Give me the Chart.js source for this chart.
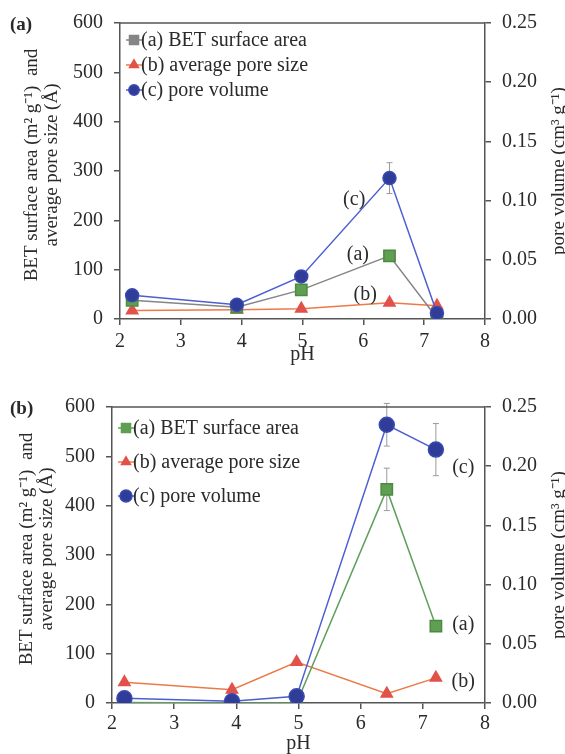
<!DOCTYPE html>
<html>
<head>
<meta charset="utf-8">
<script src="https://cdn.jsdelivr.net/npm/chart.js@4/dist/chart.umd.min.js"></script>
<style>
  body { margin: 0; background: #fff; }
  .panel { width: 565px; height: 377px; position: relative; }
</style>
</head>
<body>
<div class="panel"><canvas id="chartA" width="565" height="377"></canvas></div>
<div class="panel"><canvas id="chartB" width="565" height="377"></canvas></div>
<script>
// panel (a)
const phA = [2.2, 3.92, 4.98, 6.43, 7.21];
const betA = [38, 24, 59, 128, 2];
const betErrA = [0, 0, 0, 0, 0];
const poreSizeA = [17, 19, 21, 33, 27];
const poreVolA = [0.020, 0.012, 0.036, 0.119, 0.005];
const poreVolErrA = [0.001, 0.001, 0.001, 0.013, 0.001];

// panel (b)
const phB = [2.2, 3.93, 4.97, 6.42, 7.21];
const betB = [1, 0, 0, 433, 156];
const betErrB = [0, 0, 0, 43, 6];
const poreSizeB = [42, 27, 83, 19, 51];
const poreVolB = [0.004, 0.0014, 0.0056, 0.235, 0.214];
const poreVolErrB = [0, 0, 0, 0.018, 0.022];

const seriesLabels = ['(a) BET surface area', '(b) average pore size', '(c) pore volume'];
const xTicks = [2, 3, 4, 5, 6, 7, 8];
const leftTitle = ['BET surface area (m\u00B2 g\u207B\u00B9)  and', 'average pore size (\u00C5)'];
const rightTitle = 'pore volume (cm\u00B3 g\u207B\u00B9)';

const FONT = '"Liberation Serif", "Times New Roman", serif';
const INK = '#2a2a2a';

const decor = {
  id: 'decor',
  beforeDatasetsDraw(chart, args, o) {
    const ctx = chart.ctx;
    ctx.save();
    ctx.strokeStyle = '#9a9a9a';
    ctx.lineWidth = 1;
    chart.data.datasets.forEach((ds, i) => {
      if (!ds.errors) return;
      const meta = chart.getDatasetMeta(i);
      const sc = chart.scales[ds.yAxisID];
      meta.data.forEach((pt, j) => {
        const e = ds.errors[j];
        if (!e) return;
        const v = ds.data[j].y;
        const y1 = sc.getPixelForValue(v + e), y2 = sc.getPixelForValue(v - e);
        ctx.beginPath();
        ctx.moveTo(pt.x, y1); ctx.lineTo(pt.x, y2);
        ctx.moveTo(pt.x - 3, y1); ctx.lineTo(pt.x + 3, y1);
        ctx.moveTo(pt.x - 3, y2); ctx.lineTo(pt.x + 3, y2);
        ctx.stroke();
      });
    });
    ctx.restore();
  },
  afterDraw(chart, args, o) {
    const ctx = chart.ctx;
    const a = chart.chartArea;
    const sx = chart.scales.x, sy = chart.scales.y;
    ctx.save();
    // frame top
    ctx.strokeStyle = '#555';
    ctx.lineWidth = 1.5;
    ctx.beginPath();
    ctx.moveTo(a.left, a.top); ctx.lineTo(a.right, a.top);
    ctx.stroke();

    ctx.fillStyle = INK;
    // panel letter
    ctx.font = 'bold 19px ' + FONT;
    ctx.textAlign = 'left';
    ctx.textBaseline = 'middle';
    ctx.fillText(o.panel, 10, a.top + 2);

    // axis titles
    ctx.font = '20px ' + FONT;
    ctx.textAlign = 'center';
    ctx.fillText('pH', (a.left + a.right) / 2, a.bottom + o.phGap);
    const cy = (a.top + a.bottom) / 2;
    ctx.font = '19px ' + FONT;
    leftTitle.forEach((t, k) => {
      ctx.save();
      ctx.translate(a.left - o.titleGap + k * 20, cy - 6);
      ctx.rotate(-Math.PI / 2);
      ctx.fillText(t, 0, 0);
      ctx.restore();
    });
    ctx.save();
    ctx.translate(559, cy);
    ctx.rotate(-Math.PI / 2);
    ctx.fillText(rightTitle, 0, 0);
    ctx.restore();

    // curve labels
    ctx.font = '20px ' + FONT;
    o.notes.forEach(n => {
      ctx.fillText(n.text, sx.getPixelForValue(n.x), sy.getPixelForValue(n.y));
    });

    // legend inside plot
    chart.data.datasets.forEach((ds, i) => {
      const y = a.top + o.legTop + i * o.legGap;
      const x = a.left + 14;
      ctx.strokeStyle = ds.borderColor;
      ctx.lineWidth = 1.5;
      ctx.beginPath();
      ctx.moveTo(x - 8, y); ctx.lineTo(x + 8, y);
      ctx.stroke();
      ctx.fillStyle = ds.legendFill || ds.pointBackgroundColor;
      ctx.strokeStyle = ds.legendFill || ds.pointBorderColor;
      Chart.helpers.drawPoint(ctx, { pointStyle: ds.pointStyle, radius: ds.pointRadius * 0.8, rotation: 0, borderWidth: 1 }, x, y);
      ctx.fillStyle = INK;
      ctx.textAlign = 'left';
      ctx.fillText(ds.label, x + 7, y + 1);
    });
    ctx.restore();
  }
};

function makeChart(id, c) {
  const pts = (ys) => c.ph.map((x, i) => ({ x: x, y: ys[i] }));
  const tickFont = { family: FONT, size: 20 };
  const gridOpt = { drawOnChartArea: false, drawTicks: true, tickLength: 6, color: '#555', lineWidth: 1.5 };
  return new Chart(document.getElementById(id), {
    type: 'line',
    data: {
      datasets: [
        {
          label: seriesLabels[0], data: pts(c.bet), errors: c.betErr, yAxisID: 'y',
          borderColor: c.betLine, borderWidth: 1.5, pointStyle: 'rect', pointRadius: 8,
          pointBackgroundColor: '#5f9f52', pointBorderColor: '#4b8a40', legendFill: c.betLegend, order: 2
        },
        {
          label: seriesLabels[1], data: pts(c.size), yAxisID: 'y',
          borderColor: '#ec7a48', borderWidth: 1.5, pointStyle: 'triangle', pointRadius: 6.5,
          pointBackgroundColor: '#e2524a', pointBorderColor: '#e2524a', order: 3
        },
        {
          label: seriesLabels[2], data: pts(c.vol), errors: c.volErr, yAxisID: 'y1',
          borderColor: '#4b5ed2', borderWidth: 1.5, pointStyle: 'circle', pointRadius: c.circleR,
          pointBackgroundColor: '#2f3d98', pointBorderColor: '#3a4ab0', order: 1
        }
      ]
    },
    options: {
      responsive: false,
      animation: false,
      layout: { padding: { top: c.top, left: 0, right: 0, bottom: 0 } },
      plugins: {
        legend: { display: false },
        tooltip: { enabled: false },
        decor: { panel: c.panel, notes: c.notes, legTop: c.legTop, legGap: c.legGap, phGap: c.phGap, titleGap: c.titleGap }
      },
      scales: {
        x: {
          type: 'linear', min: 2, max: 8,
          afterBuildTicks: s => { s.ticks = xTicks.map(v => ({ value: v })); },
          ticks: { font: tickFont, color: INK, padding: c.xPad },
          grid: gridOpt,
          border: { color: '#555', width: 1.5 },
          afterFit: s => { s.height = c.xHeight; }
        },
        y: {
          position: 'left', min: 0, max: 600,
          ticks: { stepSize: 100, font: tickFont, color: INK, padding: 11 },
          grid: gridOpt,
          border: { color: '#555', width: 1.5 },
          afterFit: s => { s.width = c.left; }
        },
        y1: {
          position: 'right', min: 0, max: 0.25,
          ticks: { stepSize: 0.05, font: tickFont, color: INK, padding: 11, callback: v => v.toFixed(2) },
          grid: gridOpt,
          border: { color: '#555', width: 1.5 },
          afterFit: s => { s.width = 80; }
        }
      }
    },
    plugins: [decor]
  });
}

makeChart('chartA', {
  panel: '(a)', ph: phA, bet: betA, betErr: betErrA, size: poreSizeA, vol: poreVolA, volErr: poreVolErrA,
  betLine: '#858585', betLegend: '#858585', circleR: 6.5,
  top: 23, left: 120, xHeight: 58, xPad: 5, phGap: 36, titleGap: 88,
  legTop: 17, legGap: 25,
  notes: [{ text: '(c)', x: 5.85, y: 241 }, { text: '(a)', x: 5.91, y: 130 }, { text: '(b)', x: 6.03, y: 49 }]
});

makeChart('chartB', {
  panel: '(b)', ph: phB, bet: betB, betErr: betErrB, size: poreSizeB, vol: poreVolB, volErr: poreVolErrB,
  betLine: '#5f9f5a', betLegend: '#5f9f52', circleR: 7.5,
  top: 30, left: 112, xHeight: 51, xPad: 3, phGap: 41, titleGap: 85,
  legTop: 21, legGap: 34,
  notes: [{ text: '(c)', x: 7.65, y: 476 }, { text: '(a)', x: 7.65, y: 158 }, { text: '(b)', x: 7.65, y: 43 }]
});
</script>
</body>
</html>
